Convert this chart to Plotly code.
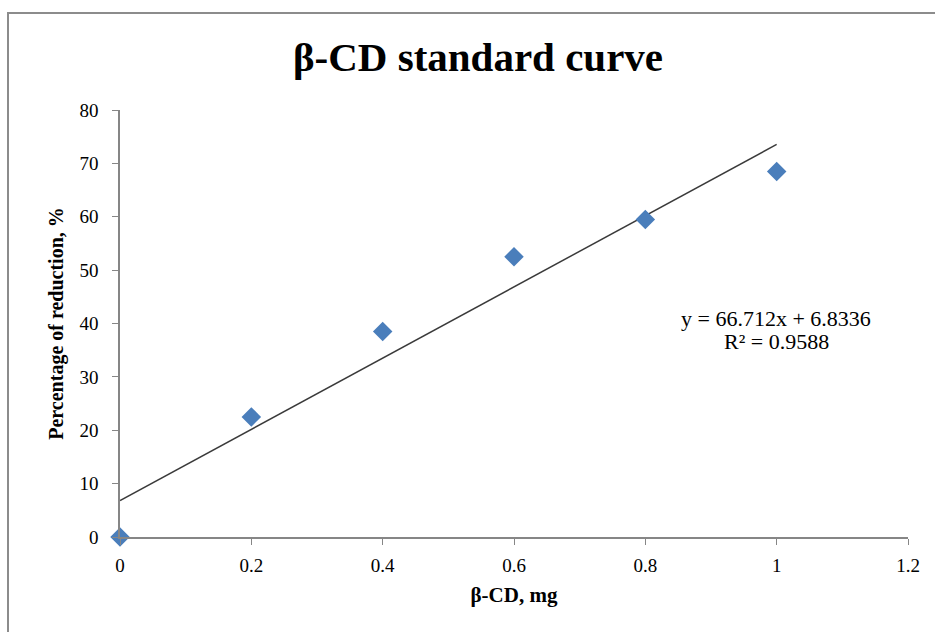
import plotly.graph_objects as go

x_mg = [0, 0.2, 0.4, 0.6, 0.8, 1.0]
reduction_pct = [0, 22.5, 38.5, 52.5, 59.5, 68.5]
slope = 66.712
intercept = 6.8336
r2 = 0.9588
trend_x = [0, 1.0]
trend_y = [slope * v + intercept for v in trend_x]
x_ticks = [0, 0.2, 0.4, 0.6, 0.8, 1, 1.2]
x_ticktext = ["0", "0.2", "0.4", "0.6", "0.8", "1", "1.2"]
y_ticks = [0, 10, 20, 30, 40, 50, 60, 70, 80]

W, H = 935, 632
L, R, T, B = 120, 27, 110, 95
pw, ph = W - L - R, H - T - B

serif = "Liberation Serif"

fig = go.Figure()
fig.add_trace(go.Scatter(x=trend_x, y=trend_y, mode="lines",
                         line=dict(color="#3a3a3a", width=1.5), showlegend=False,
                         hoverinfo="skip"))
fig.add_trace(go.Scatter(x=x_mg, y=reduction_pct, mode="markers",
                         marker=dict(symbol="diamond", size=15, color="#4a7ebb"),
                         showlegend=False, cliponaxis=False))

def px2paper_x(px):
    return (px - L) / pw

def py2paper_y(py):
    return (H - B - py) / ph

fig.add_shape(type="rect", xref="paper", yref="paper",
              x0=px2paper_x(8), x1=px2paper_x(960), y0=py2paper_y(13), y1=py2paper_y(660),
              line=dict(color="#8c8c8c", width=2), fillcolor="rgba(0,0,0,0)", layer="below")

fig.add_annotation(xref="paper", yref="paper", x=px2paper_x(776), y=py2paper_y(318),
                   xanchor="center", yanchor="middle",
                   text=f"y = {slope}x + {intercept}", showarrow=False,
                   font=dict(family=serif, size=22, color="#000"))
fig.add_annotation(xref="paper", yref="paper", x=px2paper_x(776), y=py2paper_y(341),
                   xanchor="center", yanchor="middle",
                   text=f"R² = {r2}", showarrow=False,
                   font=dict(family=serif, size=22, color="#000"))

fig.update_layout(
    width=W, height=H,
    margin=dict(l=L, r=R, t=T, b=B),
    paper_bgcolor="white", plot_bgcolor="white",
    title=dict(text="<b>β-CD standard curve</b>", x=478 / W, xanchor="center",
               y=1 - 57 / H, yanchor="middle",
               font=dict(family=serif, size=41, color="#000")),
    xaxis=dict(range=[0, 1.2], tickvals=x_ticks, ticktext=x_ticktext,
               showgrid=False, zeroline=False, showline=True, linecolor="#868686", linewidth=1.5,
               ticks="outside", ticklen=6, tickcolor="#868686", ticklabelstandoff=4,
               tickfont=dict(family=serif, size=19, color="#000"),
               title=dict(text="<b>β-CD, mg</b>", font=dict(family=serif, size=21, color="#000"),
                          standoff=13)),
    yaxis=dict(range=[0, 80], tickvals=y_ticks,
               showgrid=False, zeroline=False, showline=True, linecolor="#868686", linewidth=1.5,
               ticks="outside", ticklen=6, tickcolor="#868686", ticklabelstandoff=10,
               tickfont=dict(family=serif, size=19, color="#000"),
               title=dict(text="<b>Percentage of reduction, %</b>",
                          font=dict(family=serif, size=20, color="#000"), standoff=10)),
)

fig.write_html("out.html", post_script="document.body.style.margin='0';",
               config={"displayModeBar": False})
